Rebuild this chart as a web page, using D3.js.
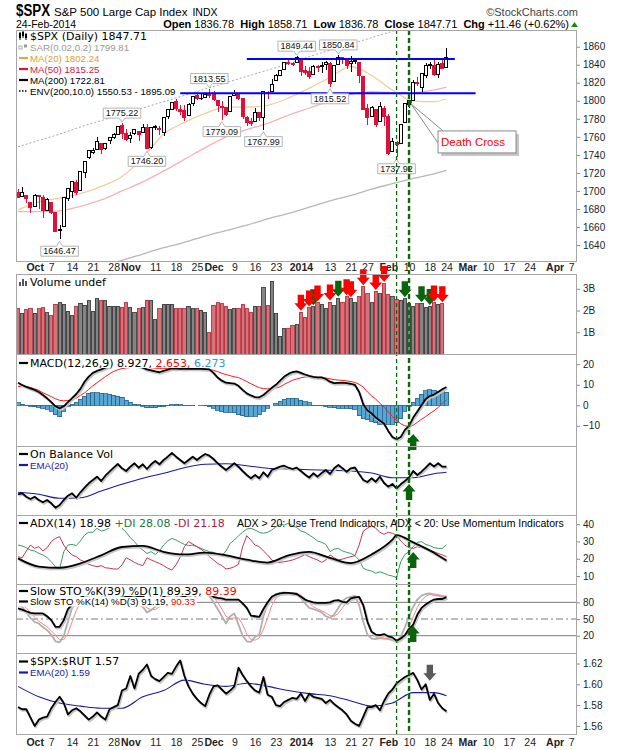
<!DOCTYPE html>
<html>
<head>
<meta charset="utf-8">
<script src="https://cdn.jsdelivr.net/npm/d3@7/dist/d3.min.js"></script>
<style>
  body { margin: 0; background: #fff; }
  text { font-family: "Liberation Sans", Arial, sans-serif; }
  .lg { font-family: "DejaVu Sans", Verdana, sans-serif; font-size: 11px; }
  .lg2 { font-family: "Liberation Sans", Arial, sans-serif; font-size: 9.7px; }
  .ax text { font-family: "Liberation Sans", Arial, sans-serif; font-size: 10px; fill: #222; }
  .ax line { stroke: #888; }
  .ax path { display: none; }
</style>
</head>
<body>
<svg id="chart" width="620" height="750"></svg>
<script>
// ---------- data ----------
var holidays = ["2013-11-28", "2013-12-25", "2014-01-01", "2014-01-20", "2014-02-17"];
var priorClose = 1697.42;   // 24-Sep-2013

var opens = [1698.0,1694.0,1695.5,1687.3,1682.4,1694.5,1693.0,1678.8,1687.2,1676.2,
 1656.9,1660.9,1691.1,1699.9,1709.2,1700.5,1720.2,1736.7,1743.0,1746.5,
 1752.3,1747.5,1756.0,1759.4,1762.9,1772.3,1763.2,1758.7,1763.4,1765.7,
 1765.0,1770.7,1748.4,1769.9,1769.5,1764.5,1782.8,1790.7,1798.8,1790.8,
 1789.6,1783.5,1797.0,1806.3,1802.9,1803.5,1808.0,1806.6,1800.1,1794.1,
 1792.8,1788.4,1806.2,1807.6,1802.8,1781.7,1777.0,1777.5,1786.5,1781.5,
 1809.0,1810.4,1822.9,1828.0,1834.9,1842.9,1841.5,1842.6,1845.9,1833.2,
 1832.3,1828.7,1837.9,1839.0,1840.1,1841.3,1821.4,1840.5,1848.0,1844.2,
 1841.1,1844.7,1842.3,1826.9,1791.0,1783.0,1790.2,1777.2,1790.9,1782.7,
 1743.8,1753.4,1753.0,1776.0,1796.2,1800.4,1820.1,1814.2,1828.5,1839.0,
 1838.6,1829.2,1841.1,1836.78];
var highs = [1701.7,1703.9,1695.5,1687.3,1696.6,1694.8,1696.0,1691.9,1687.2,1676.8,
 1662.5,1692.6,1703.4,1711.0,1711.6,1721.8,1733.4,1745.3,1747.8,1759.3,
 1752.3,1753.0,1759.8,1764.8,1772.1,1775.22,1768.5,1765.7,1768.8,1767.0,
 1773.7,1774.5,1770.8,1773.4,1771.8,1782.0,1791.0,1798.2,1802.3,1795.5,
 1795.7,1797.2,1804.8,1808.1,1808.4,1808.4,1813.55,1811.0,1800.1,1799.8,
 1792.8,1805.1,1811.5,1808.5,1803.0,1782.9,1780.5,1792.2,1786.8,1811.1,
 1810.9,1823.8,1829.8,1833.3,1842.8,1844.9,1842.5,1849.44,1845.9,1838.2,
 1837.2,1840.1,1840.0,1843.2,1843.9,1843.5,1839.3,1850.84,1848.0,1846.0,
 1849.3,1846.9,1842.3,1826.9,1796.0,1793.9,1790.2,1798.8,1793.9,1784.8,
 1758.7,1755.8,1774.1,1798.0,1799.9,1823.5,1826.6,1830.3,1841.7,1842.9,
 1847.5,1842.8,1846.5,1858.71];
var lows = [1691.9,1693.1,1687.1,1674.99,1682.1,1680.3,1670.4,1677.3,1674.7,1655.0,
 1646.47,1660.9,1688.5,1692.1,1695.9,1700.5,1714.1,1735.7,1740.8,1746.5,
 1740.5,1745.5,1752.5,1757.7,1762.9,1757.2,1755.7,1752.7,1761.6,1755.8,
 1764.4,1746.20,1746.7,1767.8,1762.3,1760.6,1780.2,1790.7,1788.4,1784.7,
 1777.2,1783.5,1794.7,1800.6,1800.8,1802.8,1803.4,1799.8,1787.9,1779.09,
 1783.4,1788.4,1806.2,1801.4,1780.1,1772.3,1772.5,1777.5,1777.1,1767.99,
 1801.7,1810.4,1822.9,1828.0,1834.9,1839.8,1838.8,1842.4,1827.7,1829.1,
 1823.7,1828.7,1831.4,1830.4,1834.4,1815.52,1821.4,1840.5,1840.3,1835.2,
 1832.4,1840.9,1820.1,1790.29,1772.9,1783.0,1770.5,1777.2,1772.3,1739.7,
 1743.8,1737.92,1753.0,1776.0,1791.8,1800.4,1816.0,1809.2,1825.2,1835.6,
 1827.0,1824.9,1835.6,1836.78];
var closes = [1692.77,1698.67,1691.75,1681.55,1695.00,1693.87,1678.66,1690.50,1676.12,1655.45,
 1656.40,1692.56,1703.20,1710.14,1698.06,1721.54,1733.15,1744.50,1744.66,1754.67,
 1746.38,1752.07,1759.77,1762.11,1771.95,1763.31,1756.54,1761.64,1767.93,1762.97,
 1770.49,1747.15,1770.61,1771.89,1767.69,1782.00,1790.62,1798.18,1791.53,1787.87,
 1781.37,1795.85,1804.76,1802.48,1802.75,1807.23,1805.81,1800.90,1795.15,1792.81,
 1785.03,1805.09,1808.37,1802.62,1782.22,1775.50,1775.32,1786.54,1781.00,1810.65,
 1809.60,1818.32,1827.99,1833.32,1842.02,1841.40,1841.07,1848.36,1831.98,1831.37,
 1826.77,1837.88,1837.49,1838.13,1842.37,1819.20,1838.88,1848.38,1845.89,1838.70,
 1843.80,1844.86,1828.46,1790.29,1781.56,1792.50,1774.20,1794.19,1782.59,1741.89,
 1755.20,1751.64,1773.43,1797.02,1799.84,1819.75,1819.26,1829.83,1838.63,1840.76,
 1828.75,1839.78,1836.25,1847.71];

// volume in billions (no bar for the last session)
var volumes = [2.08,1.85,2.03,2.08,1.88,2.08,2.12,1.90,1.75,2.28,
 2.35,2.28,1.97,1.75,2.20,2.34,2.25,2.45,1.97,2.55,
 2.45,2.45,2.20,2.20,2.20,2.15,2.35,2.15,1.90,2.08,
 2.12,2.48,2.45,1.58,2.08,2.28,2.28,2.28,2.08,2.08,
 2.08,2.20,2.08,2.08,2.01,1.90,0.97,2.25,2.35,2.31,
 2.20,2.03,2.08,2.08,2.28,2.08,1.90,2.20,2.20,3.05,
 2.23,3.35,1.87,0.82,1.16,1.16,1.31,1.35,1.92,1.70,
 2.12,2.17,2.35,2.26,2.08,2.39,2.22,2.57,2.35,2.63,
 2.54,2.35,2.63,3.09,2.78,2.35,2.88,2.78,3.24,2.74,
 2.63,2.51,2.48,2.54,2.31,2.17,2.31,2.31,2.12,2.19,
 2.35,2.28,2.31];

var macdLine = [11.0,9.9,9.0,8.2,7.5,6.5,5.0,3.4,1.5,-0.5,
 -1.5,-0.5,1.5,3.5,5.5,8.0,11.5,14.0,15.8,16.8,
 17.5,18.3,19.2,20.0,20.8,21.0,20.5,20.0,19.5,19.2,
 18.3,17.5,17.0,16.5,16.1,16.8,17.4,18.0,17.9,17.8,
 17.7,17.8,17.9,17.8,17.7,17.6,17.5,15.8,13.5,12.0,
 11.0,10.8,10.6,9.5,7.5,5.8,4.8,4.0,3.9,5.0,
 6.8,8.5,10.0,12.0,14.0,15.3,16.2,16.5,15.8,15.0,
 14.3,13.8,13.6,13.6,12.8,11.5,10.8,10.9,11.0,10.8,
 10.5,9.9,6.5,0.5,-2.5,-4.0,-6.0,-7.5,-9.0,-12.5,
 -15.5,-16.6,-15.5,-12.0,-10.0,-6.0,-3.0,0.0,3.0,4.5,
 5.2,6.5,7.8,8.927];
var macdSignal = [9.2,9.2,9.1,8.7,8.0,7.3,6.1,5.2,4.2,3.2,
 2.4,2.2,2.3,2.7,3.4,4.8,6.0,7.8,9.5,11.0,
 12.5,14.0,15.3,16.5,17.3,17.9,18.2,18.4,18.5,18.5,
 18.5,18.4,18.3,18.1,18.0,18.0,18.0,18.0,18.0,17.9,
 17.9,17.9,17.9,17.8,17.7,17.6,17.5,17.0,16.4,15.6,
 15.0,14.4,13.9,13.5,12.6,11.6,10.5,9.5,8.6,8.1,
 8.0,8.1,8.4,9.0,10.2,11.2,12.2,12.8,13.4,13.8,
 13.9,13.7,13.6,13.6,13.3,12.9,12.5,12.3,12.1,11.9,
 11.6,11.1,10.2,8.9,6.5,4.6,3.0,1.0,-0.9,-3.2,
 -5.5,-7.3,-9.0,-10.0,-10.4,-9.7,-8.3,-6.8,-5.5,-4.0,
 -2.7,-1.0,0.9,2.653];
var macdHist = [1.3,0.5,-0.3,-0.4,-0.8,-1.0,-1.5,-2.0,-3.0,-4.5,
 -5.5,-3.0,-0.5,0.5,1.5,3.0,4.5,5.8,6.2,6.0,
 5.8,5.6,5.4,4.8,4.5,4.0,2.5,1.5,0.5,0.2,
 -0.5,-1.2,-1.3,-1.2,-0.8,-0.6,-0.3,0.3,0.4,0.2,
 -0.2,-0.3,-0.2,0.0,-0.1,-0.3,-0.6,-1.5,-2.5,-3.2,
 -3.5,-3.3,-3.6,-4.5,-5.2,-5.5,-5.4,-5.4,-4.5,-3.0,
 -1.5,0.0,1.0,2.0,3.0,3.5,3.5,3.3,2.5,1.8,
 1.2,-0.3,-0.3,-0.3,-0.5,-1.0,-1.2,-1.5,-1.5,-1.5,
 -1.6,-2.0,-5.0,-6.5,-7.0,-8.0,-8.5,-9.3,-9.3,-9.3,
 -9.3,-8.5,-6.5,-3.0,-0.5,1.5,3.5,5.5,7.0,7.5,
 7.3,6.8,6.5,6.273];

// on balance volume, arbitrary units (panel has no scale)
var obv = [20.7,21.7,18.3,16.0,18.3,15.0,12.7,15.0,11.7,7.3,
 10.0,15.0,19.3,21.7,17.3,22.7,27.3,31.7,35.0,38.3,
 34.0,39.3,43.3,47.3,51.0,46.7,44.0,48.3,51.7,47.3,
 50.7,46.0,50.7,54.0,50.7,55.0,58.3,62.0,58.3,55.0,
 51.7,55.0,58.3,55.0,58.3,61.0,59.3,56.0,51.7,48.3,
 45.0,48.3,51.7,48.3,44.0,40.0,36.7,40.0,36.7,42.7,
 38.3,45.0,46.7,48.3,49.3,47.3,46.0,47.3,44.0,40.5,
 37.5,41.7,38.3,42.0,45.0,41.0,46.7,50.0,46.7,43.3,
 46.7,47.5,41.0,35.0,33.0,36.7,33.3,38.3,32.0,28.3,
 31.0,26.7,30.7,34.0,37.5,44.0,40.0,43.3,47.3,51.7,
 48.5,51.7,48.3,48.3];

var plusDI = [27.9,27.4,26.4,25.0,24.5,23.1,22.2,20.6,18.3,15.4,
 14.1,24.1,27.9,28.3,27.6,30.3,33.7,35.3,35.3,37.6,
 36.0,36.6,38.0,39.5,40.5,37.6,35.3,32.2,29.9,27.0,
 25.0,23.1,24.1,22.5,24.5,27.9,30.3,31.8,30.8,29.5,
 28.3,27.6,27.9,27.0,26.0,25.0,24.1,23.7,22.5,21.8,
 24.5,28.9,30.8,33.3,35.3,37.2,37.6,36.6,35.3,34.7,
 35.3,36.6,38.5,39.9,39.5,40.5,39.1,38.0,36.0,35.3,
 33.7,32.2,30.3,29.5,28.3,24.1,25.6,26.0,24.5,23.7,
 23.1,21.8,19.3,14.5,13.5,12.9,11.6,12.5,11.6,10.6,
 10.0,9.2,18.3,22.5,24.1,27.0,29.5,29.9,28.3,27.6,
 26.4,26.0,26.0,28.08];
var minusDI = [21.2,20.6,24.5,27.9,26.0,27.0,24.5,26.4,29.9,31.8,
 32.8,27.9,24.5,22.2,21.2,19.3,18.3,16.8,16.0,15.4,
 16.0,14.8,14.5,14.1,14.1,16.4,20.6,19.3,17.9,16.8,
 16.0,20.5,19.3,18.3,17.3,16.0,14.5,13.5,16.5,21.0,
 27.0,29.9,28.5,27.0,25.5,23.7,21.2,19.3,17.3,16.0,
 14.1,14.5,15.4,16.8,27.0,33.3,30.8,27.9,27.0,24.5,
 22.2,19.3,17.9,17.9,18.3,18.7,19.3,20.2,21.2,22.5,
 21.2,20.2,19.3,17.9,19.3,22.2,20.6,19.3,19.8,20.6,
 21.2,21.8,27.9,36.0,37.6,39.1,37.6,35.3,34.1,35.3,
 34.7,33.7,30.3,27.9,26.4,26.0,27.0,26.4,25.6,25.0,
 24.1,23.1,22.2,21.18];

var stoK39 = [69,67,64,61,60,60,60,55,48,36,
 36,48,68,76,78,88,93,96,97,98,
 95,96,97,98,99,95,90,91,93,90,
 92,80,82,85,86,90,95,98,95,93,
 90,95,98,97,97,98,96,90,88,87,
 85,85,85,85,78,70,56,55,54,68,
 80,90,94,96,97,97,96,95,90,85,
 82,80,79,79,79,80,83,84,81,80,
 87,89,90,75,45,27,22,21,23,19,
 17,11,15,21,32,40,58,70,76,81,
 85,86,86,89.39];
var stoK14 = [75,72,62,52,45,42,35,30,22,10,
 8,20,45,70,80,88,95,97,97,98,
 94,95,96,97,98,90,82,78,80,75,
 72,62,66,72,78,88,95,98,92,88,
 82,88,95,93,92,94,92,80,68,55,
 42,55,60,40,20,10,9,18,22,55,
 78,88,95,97,98,97,96,96,88,78,
 70,68,65,62,55,52,58,70,82,88,
 90,92,75,45,22,15,14,16,15,14,
 12,10,18,35,55,72,85,92,95,96,
 93,92,90,91.19];
var stoD3 = [78,76,70,62,53,46,41,36,29,21,
 13,13,24,45,65,79,88,93,96,97,
 96,96,95,96,97,95,90,83,80,78,
 76,70,67,67,72,79,87,94,95,93,
 87,86,88,92,93,93,93,89,80,68,
 55,51,52,52,40,23,13,12,16,32,
 52,74,87,93,97,97,97,96,93,87,
 79,72,68,65,61,56,55,60,70,80,
 87,90,86,71,47,27,17,15,15,15,
 14,12,13,21,36,54,71,83,91,94,
 95,94,92,90.33];

var spxRut = [1.578,1.576,1.576,1.568,1.560,1.566,1.568,1.569,1.577,1.583,
 1.588,1.582,1.571,1.575,1.577,1.574,1.570,1.566,1.569,1.573,
 1.569,1.566,1.576,1.578,1.580,1.594,1.596,1.608,1.596,1.610,
 1.614,1.619,1.608,1.605,1.603,1.607,1.611,1.610,1.617,1.623,
 1.608,1.598,1.591,1.586,1.582,1.579,1.590,1.598,1.599,1.595,
 1.591,1.594,1.598,1.616,1.609,1.603,1.598,1.594,1.592,1.607,
 1.590,1.588,1.580,1.579,1.583,1.585,1.587,1.586,1.591,1.584,
 1.591,1.588,1.587,1.586,1.582,1.585,1.581,1.578,1.575,1.571,
 1.565,1.562,1.560,1.569,1.578,1.578,1.580,1.575,1.584,1.591,
 1.595,1.601,1.604,1.607,1.609,1.611,1.604,1.595,1.600,1.585,
 1.591,1.582,1.577,1.574];

// smooth overlays, read weekly: [date, value]
var ma20 = [["2013-09-25",1679],["2013-10-02",1688],["2013-10-09",1692],["2013-10-16",1697],["2013-10-23",1705],["2013-10-30",1716],["2013-11-06",1737],["2013-11-13",1763],["2013-11-20",1776],["2013-11-27",1786],["2013-12-05",1793],["2013-12-12",1793],["2013-12-19",1795],["2013-12-27",1803],["2014-01-06",1814],["2014-01-13",1826],["2014-01-21",1838],["2014-01-28",1828],["2014-02-04",1812],["2014-02-11",1800],["2014-02-19",1799],["2014-02-24",1802.24]];
var ma50 = [["2013-09-25",1677],["2013-10-02",1677],["2013-10-09",1678],["2013-10-16",1683],["2013-10-23",1690],["2013-10-30",1700],["2013-11-06",1710],["2013-11-13",1722],["2013-11-20",1735],["2013-11-27",1748],["2013-12-05",1760],["2013-12-12",1768],["2013-12-19",1775],["2013-12-27",1784],["2014-01-06",1792],["2014-01-13",1800],["2014-01-21",1807],["2014-01-28",1810],["2014-02-04",1809],["2014-02-11",1809],["2014-02-19",1812],["2014-02-24",1815.25]];
var ma200 = [["2013-09-25",1590],["2013-10-02",1597],["2013-10-09",1603],["2013-10-16",1610],["2013-10-23",1617],["2013-10-30",1623],["2013-11-06",1630],["2013-11-13",1637],["2013-11-20",1643],["2013-11-27",1650],["2013-12-05",1656],["2013-12-12",1662],["2013-12-19",1669],["2013-12-27",1675],["2014-01-06",1682],["2014-01-13",1689],["2014-01-21",1695],["2014-01-28",1702],["2014-02-04",1708],["2014-02-11",1714],["2014-02-19",1719],["2014-02-24",1722.81]];
var envUpper = [["2013-09-25",1749],["2013-10-02",1756],["2013-10-09",1763],["2013-10-16",1771],["2013-10-23",1778],["2013-10-30",1785],["2013-11-06",1792],["2013-11-13",1799],["2013-11-20",1806],["2013-11-27",1813],["2013-12-05",1820],["2013-12-12",1827],["2013-12-19",1834],["2013-12-27",1841],["2014-01-06",1849],["2014-01-13",1856],["2014-01-21",1863],["2014-01-28",1870],["2014-02-04",1877],["2014-02-11",1884],["2014-02-19",1891],["2014-02-24",1895.09]];
var obvEma = [["2013-09-25",22.7],["2013-10-02",20.7],["2013-10-09",16.7],["2013-10-16",17.3],["2013-10-23",24.0],["2013-10-30",30.7],["2013-11-06",36.7],["2013-11-13",41.7],["2013-11-20",47.3],["2013-11-27",50.7],["2013-12-05",51.3],["2013-12-12",49.3],["2013-12-19",46.7],["2013-12-27",46.0],["2014-01-06",45.3],["2014-01-13",44.7],["2014-01-21",44.0],["2014-01-28",42.0],["2014-02-04",37.3],["2014-02-11",37.3],["2014-02-19",41.3],["2014-02-24",42.7]];
var adx = [["2013-09-25",20.2],["2013-10-02",15.5],["2013-10-09",14.8],["2013-10-16",17.3],["2013-10-23",22.0],["2013-10-30",26.8],["2013-11-06",27.5],["2013-11-13",24.0],["2013-11-20",22.5],["2013-11-27",23.5],["2013-12-05",22.0],["2013-12-12",19.5],["2013-12-19",17.8],["2013-12-27",22.0],["2014-01-06",24.0],["2014-01-13",20.5],["2014-01-21",17.5],["2014-01-28",22.5],["2014-02-04",31.0],["2014-02-05",33.7],["2014-02-11",29.5],["2014-02-19",23.5],["2014-02-24",18.98]];
var rutEma = [["2013-09-25",1.598],["2013-10-02",1.588],["2013-10-09",1.582],["2013-10-16",1.579],["2013-10-23",1.577],["2013-10-30",1.577],["2013-11-06",1.588],["2013-11-13",1.594],["2013-11-20",1.604],["2013-11-27",1.600],["2013-12-05",1.598],["2013-12-12",1.601],["2013-12-19",1.598],["2013-12-27",1.594],["2014-01-06",1.591],["2014-01-13",1.589],["2014-01-21",1.584],["2014-01-28",1.579],["2014-02-04",1.582],["2014-02-11",1.592],["2014-02-19",1.592],["2014-02-24",1.589]];

// annotations
var priceLabels = [["2013-10-09",1646.47,"low"],["2013-10-30",1775.22,"high"],["2013-11-07",1746.20,"low"],["2013-11-29",1813.55,"high"],["2013-12-04",1779.09,"low"],["2013-12-18",1767.99,"low"],["2013-12-31",1849.44,"high"],["2014-01-13",1815.52,"low"],["2014-01-15",1850.84,"high"],["2014-02-05",1737.92,"low"]];
var levels = [["2013-12-12","2014-02-26",1846.4],["2013-11-19","2014-03-05",1808.3]];
var signalDates = ["2014-02-05","2014-02-10"];
var deathCross = ["2014-02-10", 1799.84];
var volRedArrows = ["2014-01-02","2014-01-06","2014-01-08","2014-01-13","2014-01-17","2014-01-21","2014-01-24","2014-01-29","2014-01-31","2014-02-19","2014-02-21"];
var volGreenArrows = ["2014-01-07","2014-01-15","2014-02-07","2014-02-13","2014-02-18"];
var upArrows = [["macd","2014-02-11",-14.0],["obv","2014-02-10",31],["adx","2014-02-11",23.9],["sto","2014-02-11",37.5]];
var rutArrow = ["2014-02-18",1.6035];

var tickDates = ["2013-10-01","2013-10-07","2013-10-14","2013-10-21","2013-10-28","2013-11-01","2013-11-11","2013-11-18","2013-11-25","2013-12-02","2013-12-09","2013-12-16","2013-12-23","2014-01-02","2014-01-13","2014-01-21","2014-01-27","2014-02-03","2014-02-10","2014-02-18","2014-02-24","2014-03-03","2014-03-10","2014-03-17","2014-03-24","2014-04-01","2014-04-07"];
var tickLabels = ["Oct","7","14","21","28","Nov","11","18","25","Dec","9","16","23","2014","13","21","27","Feb","10","18","24","Mar","10","17","24","Apr","7"];

// ---------- layout ----------
var svg = d3.select("#chart");
var L = 16, R = 577;
var panels = { price:[30,261], vol:[274,354], macd:[354,446], obv:[446,515], adx:[515,584], sto:[584,653], rut:[653,734] };

var parse = d3.utcParse("%Y-%m-%d"), fmt = d3.utcFormat("%Y-%m-%d");
var days = d3.utcDays(parse("2013-09-25"), parse("2014-04-12")).filter(function (d) {
  var wd = d.getUTCDay();
  return wd > 0 && wd < 6 && holidays.indexOf(fmt(d)) < 0;
}).map(fmt);
var dayIndex = {};
days.forEach(function (d, i) { dayIndex[d] = i; });

var x = d3.scaleLinear().domain([0, days.length - 1]).range([18, 18 + 4.16 * (days.length - 1)]);
function xd(d) { return x(dayIndex[d]); }

var yP = d3.scaleLinear().domain([1622.3, 1878.5]).range([261, 30]);
var yV = d3.scaleLinear().domain([0, 3.68]).range([354, 274]);
var yM = d3.scaleLinear().domain([-19.85, 25.0]).range([446, 354]);
var yO = d3.scaleLinear().domain([0, 70]).range([515, 445]);
var yA = d3.scaleLinear().domain([5.4, 45.3]).range([584, 515]);
var yS = d3.scaleLinear().domain([-11.1, 113]).range([653, 584]);
var yR = d3.scaleLinear().domain([1.5522, 1.6301]).range([734, 653]);
var yOf = { macd: yM, obv: yO, adx: yA, sto: yS };

var defs = svg.append("defs");
Object.keys(panels).forEach(function (k) {
  defs.append("clipPath").attr("id", "clip-" + k).append("rect")
    .attr("x", L).attr("y", panels[k][0]).attr("width", R - L).attr("height", panels[k][1] - panels[k][0]);
});
function panelG(k) { return svg.append("g").attr("clip-path", "url(#clip-" + k + ")"); }

function daily(y) { return d3.line().x(function (d, i) { return x(i); }).y(function (d) { return y(d); }); }
function sparse(y) { return d3.line().x(function (d) { return xd(d[0]); }).y(function (d) { return y(d[1]); }).curve(d3.curveMonotoneX); }
function path(g, d, color, w, dash) {
  return g.append("path").attr("d", d).attr("fill", "none").attr("stroke", color)
    .attr("stroke-width", w).attr("stroke-dasharray", dash || null).attr("stroke-linejoin", "round");
}
function heavy(g, d) {   // black indicator line with the grey drop shadow
  path(g, d, "#c6c6c6", 2.2).attr("transform", "translate(1,1.5)");
  path(g, d, "#000", 1.8);
}

// ---------- header ----------
svg.append("text").attr("x", 16).attr("y", 15.5).attr("font-weight", "bold").attr("font-size", 16)
  .attr("textLength", 34).attr("lengthAdjust", "spacingAndGlyphs").text("$SPX");
var sub = svg.append("text").attr("x", 54).attr("y", 15.5).attr("font-size", 11.5).text("S&P 500 Large Cap Index");
svg.append("text").attr("x", 54 + sub.node().getComputedTextLength() + 5).attr("y", 15.5).attr("font-size", 10.5).text("INDX");
svg.append("text").attr("x", 578).attr("y", 15.5).attr("font-size", 11).attr("fill", "#444")
  .attr("text-anchor", "end").text("\u00a9StockCharts.com");
svg.append("text").attr("x", 16).attr("y", 28).attr("font-size", 10.5).text("24-Feb-2014");

var last = closes.length - 1;
var chg = closes[last] - closes[last - 1];
var hdr = svg.append("text").attr("x", 569).attr("y", 28).attr("font-size", 11).attr("text-anchor", "end");
[["Open ", 1], [opens[last].toFixed(2) + "  ", 0], ["High ", 1], [highs[last].toFixed(2) + "  ", 0],
 ["Low ", 1], [lows[last].toFixed(2) + "  ", 0], ["Close ", 1], [closes[last].toFixed(2) + "  ", 0],
 ["Chg ", 1], [d3.format("+.2f")(chg) + " (" + d3.format("+.2f")(chg / closes[last - 1] * 100) + "%)", 0]]
  .forEach(function (p) { hdr.append("tspan").attr("font-weight", p[1] ? "bold" : null).attr("xml:space", "preserve").text(p[0]); });
svg.append("path").attr("d", "M571,27L574.5,22L578,27Z").attr("fill", "#1a8a1a");

// ---------- price panel ----------
var gP = panelG("price");
path(gP, sparse(yP)(envUpper), "#a8a8a8", 1, "2,2");
path(gP, sparse(yP)(ma200), "#b8b8b8", 1.3);
path(gP, sparse(yP)(ma50), "#f4b3b8", 1.3);
path(gP, sparse(yP)(ma20), "#efcf98", 1.3);

var candles = closes.map(function (c, i) {
  return { i: i, o: opens[i], h: highs[i], l: lows[i], c: c, prev: i ? closes[i - 1] : priorClose };
});
function candleColor(d) { return d.c < d.prev ? "#e0103a" : "#000"; }
gP.append("g").attr("shape-rendering", "crispEdges").selectAll("line").data(candles).enter().append("line")
  .attr("x1", function (d) { return Math.round(x(d.i)); }).attr("x2", function (d) { return Math.round(x(d.i)); })
  .attr("y1", function (d) { return yP(d.h); }).attr("y2", function (d) { return yP(d.l); })
  .attr("stroke", candleColor);
gP.append("g").attr("shape-rendering", "crispEdges").selectAll("rect").data(candles).enter().append("rect")
  .attr("x", function (d) { return Math.round(x(d.i)) - 1.5; })
  .attr("y", function (d) { return yP(Math.max(d.o, d.c)); })
  .attr("width", 3)
  .attr("height", function (d) { return Math.max(yP(Math.min(d.o, d.c)) - yP(Math.max(d.o, d.c)), 0.8); })
  .attr("fill", function (d) { return d.c < d.o ? candleColor(d) : "#fff"; })
  .attr("stroke", candleColor);

levels.forEach(function (lv) {
  gP.append("line").attr("x1", xd(lv[0])).attr("x2", xd(lv[1])).attr("y1", yP(lv[2])).attr("y2", yP(lv[2]))
    .attr("stroke", "#0000ff").attr("stroke-width", 2);
});

// high / low call-outs
var gLab = svg.append("g");
priceLabels.forEach(function (p) {
  var cx = xd(p[0]), yv = yP(p[1]);
  var t = gLab.append("text").attr("font-size", 9).attr("text-anchor", "middle").attr("x", cx).text(p[1].toFixed(2));
  var w = t.node().getComputedTextLength() + 5, h = 10, l = cx - w / 2, r = cx + w / 2, top, bot, d;
  if (p[2] === "high") {
    bot = yv - 5; top = bot - h;
    d = "M" + l + "," + top + "H" + r + "V" + bot + "H" + (cx + 3) + "L" + cx + "," + (yv - 1) + "L" + (cx - 3) + "," + bot + "H" + l + "Z";
  } else {
    top = yv + 7; bot = top + h;
    d = "M" + l + "," + top + "H" + (cx - 3) + "L" + cx + "," + (yv + 2) + "L" + (cx + 3) + "," + top + "H" + r + "V" + bot + "H" + l + "Z";
  }
  gLab.insert("path", "text").attr("d", d).attr("fill", "#fff").attr("stroke", "#b4b4b4");
  t.attr("y", bot - 2).attr("fill", "#111");
});

// ---------- volume ----------
var gV = panelG("vol");
gV.append("g").attr("shape-rendering", "crispEdges").selectAll("rect").data(volumes).enter().append("rect")
  .attr("x", function (d, i) { return x(i) - 1.6; }).attr("width", 3.2)
  .attr("y", function (d) { return yV(d); }).attr("height", function (d) { return yV(0) - yV(d); })
  .attr("fill", function (d, i) { return candles[i].c < candles[i].prev ? "#d4737a" : "#858585"; })
  .attr("stroke", function (d, i) { return candles[i].c < candles[i].prev ? "#b8323e" : "#3c3c3c"; })
  .attr("stroke-width", 0.9);

// ---------- MACD ----------
var gM = panelG("macd");
gM.append("g").attr("shape-rendering", "crispEdges").selectAll("rect").data(macdHist).enter().append("rect")
  .attr("x", function (d, i) { return x(i) - 2.08; }).attr("width", 4.16)
  .attr("y", function (d) { return yM(Math.max(d, 0)); })
  .attr("height", function (d) { return Math.abs(yM(d) - yM(0)); })
  .attr("fill", "#58a6d2").attr("stroke", "#23648e").attr("stroke-width", 0.8);
path(gM, daily(yM)(macdSignal), "#ff1a1a", 1);
heavy(gM, daily(yM)(macdLine));

// ---------- OBV ----------
var gO = panelG("obv");
path(gO, sparse(yO)(obvEma), "#1a1aa0", 1.1);
heavy(gO, daily(yO)(obv));

// ---------- ADX ----------
var gA = panelG("adx");
path(gA, daily(yA)(plusDI), "#3c9a64", 1);
path(gA, daily(yA)(minusDI), "#c23655", 1);
heavy(gA, sparse(yA)(adx));

// ---------- Slow stochastics ----------
var gS = panelG("sto");
[80, 20].forEach(function (v) {
  gS.append("line").attr("x1", L).attr("x2", R).attr("y1", yS(v)).attr("y2", yS(v)).attr("stroke", "#7a7a7a");
});
gS.append("line").attr("x1", L).attr("x2", R).attr("y1", yS(50)).attr("y2", yS(50))
  .attr("stroke", "#7a7a7a").attr("stroke-dasharray", "7,3,2,3");
path(gS, daily(yS)(stoK14), "#b0b0b0", 1.8);
path(gS, daily(yS)(stoD3), "#f28a8a", 1);
heavy(gS, daily(yS)(stoK39));

// ---------- $SPX:$RUT ----------
var gR = panelG("rut");
path(gR, sparse(yR)(rutEma), "#1a1aa0", 1.1);
heavy(gR, daily(yR)(spxRut));

// ---------- axes ----------
function yAxis(scale, vals, f) {
  svg.append("g").attr("class", "ax").attr("transform", "translate(" + R + ",0)")
    .call(d3.axisRight(scale).tickValues(vals).tickSize(3).tickPadding(3).tickFormat(f));
}
yAxis(yP, d3.range(1640, 1861, 20), d3.format("d"));
yAxis(yV, [1, 2, 3], function (d) { return d + "B"; });
yAxis(yM, [20, 10, 0, -10], d3.format("d"));
yAxis(yA, [40, 30, 20, 10], d3.format("d"));
yAxis(yS, [80, 50, 20], d3.format("d"));
yAxis(yR, [1.62, 1.60, 1.58, 1.56], d3.format(".2f"));

var tickIdx = tickDates.map(function (d) { return dayIndex[d]; });
function xAxis(yPos, pad) {
  var g = svg.append("g").attr("class", "ax").attr("transform", "translate(0," + yPos + ")")
    .call(d3.axisBottom(x).tickValues(tickIdx).tickSize(0).tickPadding(pad)
      .tickFormat(function (d, i) { return tickLabels[i]; }));
  g.selectAll("text").attr("font-weight", function (d, i) { return /^[A-Z]|2014/.test(tickLabels[i]) ? "bold" : null; })
    .style("font-size", "10.5px");
}
xAxis(261, 3);
xAxis(734, 5);

// ---------- signal lines, arrows, call-out ----------
signalDates.forEach(function (d, k) {
  svg.append("line").attr("x1", xd(d)).attr("x2", xd(d)).attr("y1", panels.price[0]).attr("y2", panels.rut[1])
    .attr("stroke", "#0b6b0b").attr("stroke-width", k ? 2.4 : 1.3).attr("stroke-dasharray", k ? "5,3" : "4,3");
});

function arrow(cx, tip, dir, color) {   // dir 1: points down, -1: points up
  var w = 13, h = 16, hh = 7.5, sw = 3.2;
  var pts = [[cx, tip], [cx - w / 2, tip - dir * hh], [cx - sw, tip - dir * hh], [cx - sw, tip - dir * h],
             [cx + sw, tip - dir * h], [cx + sw, tip - dir * hh], [cx + w / 2, tip - dir * hh]];
  svg.append("path").attr("d", "M" + pts.join("L") + "Z").attr("fill", color);
}
volGreenArrows.forEach(function (d) { arrow(xd(d), yV(volumes[dayIndex[d]]) - 1.5, 1, "#0a640a"); });
volRedArrows.forEach(function (d) { arrow(xd(d), yV(volumes[dayIndex[d]]) - 1.5, 1, "#ff0000"); });
upArrows.forEach(function (a) { arrow(xd(a[1]), yOf[a[0]](a[2]), -1, "#0a640a"); });
arrow(xd(rutArrow[0]), yR(rutArrow[1]), 1, "#5a5a5a");

var dcx = xd(deathCross[0]), dcy = yP(deathCross[1]);
svg.append("rect").attr("x", dcx + 32).attr("y", dcy + 33).attr("width", 78).attr("height", 22).attr("fill", "#c4c4c4");
svg.append("path").attr("d", "M" + (dcx + 34) + "," + (dcy + 30) + "L" + (dcx + 2) + "," + (dcy + 3) + "L" + (dcx + 29) + "," + (dcy + 42))
  .attr("fill", "#fff").attr("stroke", "#8a8a8a");
svg.append("rect").attr("x", dcx + 29).attr("y", dcy + 30).attr("width", 78).attr("height", 22)
  .attr("fill", "#fff").attr("stroke", "#8a8a8a");
svg.append("text").attr("x", dcx + 32).attr("y", dcy + 45).attr("font-size", 11.5).attr("fill", "#ff0000").text("Death Cross");
svg.append("circle").attr("cx", dcx + 1).attr("cy", dcy + 1).attr("r", 2).attr("fill", "#0a640a");

// ---------- legends ----------
// first entry of a panel uses the wide face, the following ones the narrow face
function legend(x0, y0, parts, icon, minor) {
  var g = svg.append("g");
  var bg = g.append("rect").attr("fill", "#fff");
  var t = g.append("text").attr("class", minor ? "lg2" : "lg").attr("x", x0 + 13).attr("y", y0);
  parts.forEach(function (p) { t.append("tspan").attr("fill", p[1]).text(p[0]); });
  var hgt = minor ? 9.5 : 10.5;
  bg.attr("x", x0).attr("y", y0 - hgt + 1.5).attr("width", t.node().getComputedTextLength() + 15).attr("height", hgt);
  if (icon) icon(g, x0 + 2, y0 - 3.5);
}
function lineIcon(color, dash) {
  return function (g, x0, yc) {
    g.append("line").attr("x1", x0).attr("x2", x0 + 9).attr("y1", yc).attr("y2", yc)
      .attr("stroke", color).attr("stroke-width", dash ? 1.5 : 2.2).attr("stroke-dasharray", dash || null);
  };
}
function candleIcon(g, x0, yc) {
  [[0, -3, 6], [3, -4, 5], [6, -2, 5]].forEach(function (c) {
    g.append("line").attr("x1", x0 + c[0] + 1).attr("x2", x0 + c[0] + 1).attr("y1", yc + c[1] - 1).attr("y2", yc + c[1] + c[2] + 1).attr("stroke", "#000");
    g.append("rect").attr("x", x0 + c[0]).attr("y", yc + c[1]).attr("width", 2).attr("height", c[2] - 1).attr("fill", "#000");
  });
}
function sarIcon(g, x0, yc) {
  g.append("rect").attr("x", x0).attr("y", yc - 1).attr("width", 3).attr("height", 3).attr("fill", "none").attr("stroke", "#999").attr("stroke-width", 0.8);
  g.append("rect").attr("x", x0 + 5).attr("y", yc - 2.5).attr("width", 3).attr("height", 3).attr("fill", "#999");
}
function barIcon(g, x0, yc) {
  [[0, 4], [3, 7], [6, 5]].forEach(function (b) {
    g.append("rect").attr("x", x0 + b[0]).attr("y", yc + 4 - b[1]).attr("width", 2).attr("height", b[1]).attr("fill", "#555");
  });
}

var fx = d3.format(".2f");
legend(17, 39.5, [["$SPX (Daily) " + fx(closes[last]), "#000"]], candleIcon);
legend(17, 50.5, [["SAR(0.02,0.2) 1799.81", "#999"]], sarIcon, true);
legend(17, 61.5, [["MA(20) " + fx(ma20[ma20.length - 1][1]), "#d9a030"]], lineIcon("#e0a838"), true);
legend(17, 72.5, [["MA(50) " + fx(ma50[ma50.length - 1][1]), "#dc143c"]], lineIcon("#dc143c"), true);
legend(17, 83.5, [["MA(200) " + fx(ma200[ma200.length - 1][1]), "#000"]], lineIcon("#000"), true);
legend(17, 94.5, [["ENV(200,10.0) 1550.53 - " + fx(envUpper[envUpper.length - 1][1]), "#000"]], lineIcon("#000", "1.5,1.5"), true);
legend(17, 285.5, [["Volume undef", "#000"]], barIcon);
legend(17, 366.5, [["MACD(12,26,9) " + macdLine[last].toFixed(3) + ",", "#000"], [" " + macdSignal[last].toFixed(3) + ",", "#ff0000"], [" " + macdHist[last].toFixed(3), "#3399cc"]], lineIcon("#000"));
legend(17, 457.5, [["On Balance Vol", "#000"]], lineIcon("#000"));
legend(17, 468.5, [["EMA(20)", "#1a1aa0"]], lineIcon("#1a1aa0"), true);
legend(17, 526.5, [["ADX(14) " + fx(adx[adx.length - 1][1]) + " ", "#000"], ["+DI " + fx(plusDI[last]) + " ", "#207a3a"], ["-DI " + fx(minusDI[last]), "#a8203c"]], lineIcon("#000"));
svg.append("text").attr("x", 237).attr("y", 526.5).attr("font-size", 10.5)
  .text("ADX > 20: Use Trend Indicators, ADX < 20: Use Momentum Indicators");
legend(17, 594.5, [["Slow STO %K(39) %D(1) " + fx(stoK39[last]) + ", ", "#000"], [fx(stoK39[last]), "#ff0000"]], lineIcon("#000"));
legend(17, 605, [["Slow STO %K(14) %D(3) " + fx(stoK14[last]) + ", ", "#000"], [fx(stoD3[last]), "#ff0000"]], lineIcon("#000"), true);
legend(17, 665, [["$SPX:$RUT " + spxRut[last].toFixed(2), "#000"]], lineIcon("#000"));
legend(17, 676, [["EMA(20) " + rutEma[rutEma.length - 1][1].toFixed(2), "#1a1aa0"]], lineIcon("#1a1aa0"), true);

// ---------- panel frames ----------
Object.keys(panels).forEach(function (k) {
  svg.append("rect").attr("x", L + 0.5).attr("y", panels[k][0] + 0.5).attr("width", R - L - 1)
    .attr("height", panels[k][1] - panels[k][0]).attr("fill", "none").attr("stroke", "#a6a6a6")
    .attr("shape-rendering", "crispEdges");
});
</script>
</body>
</html>
